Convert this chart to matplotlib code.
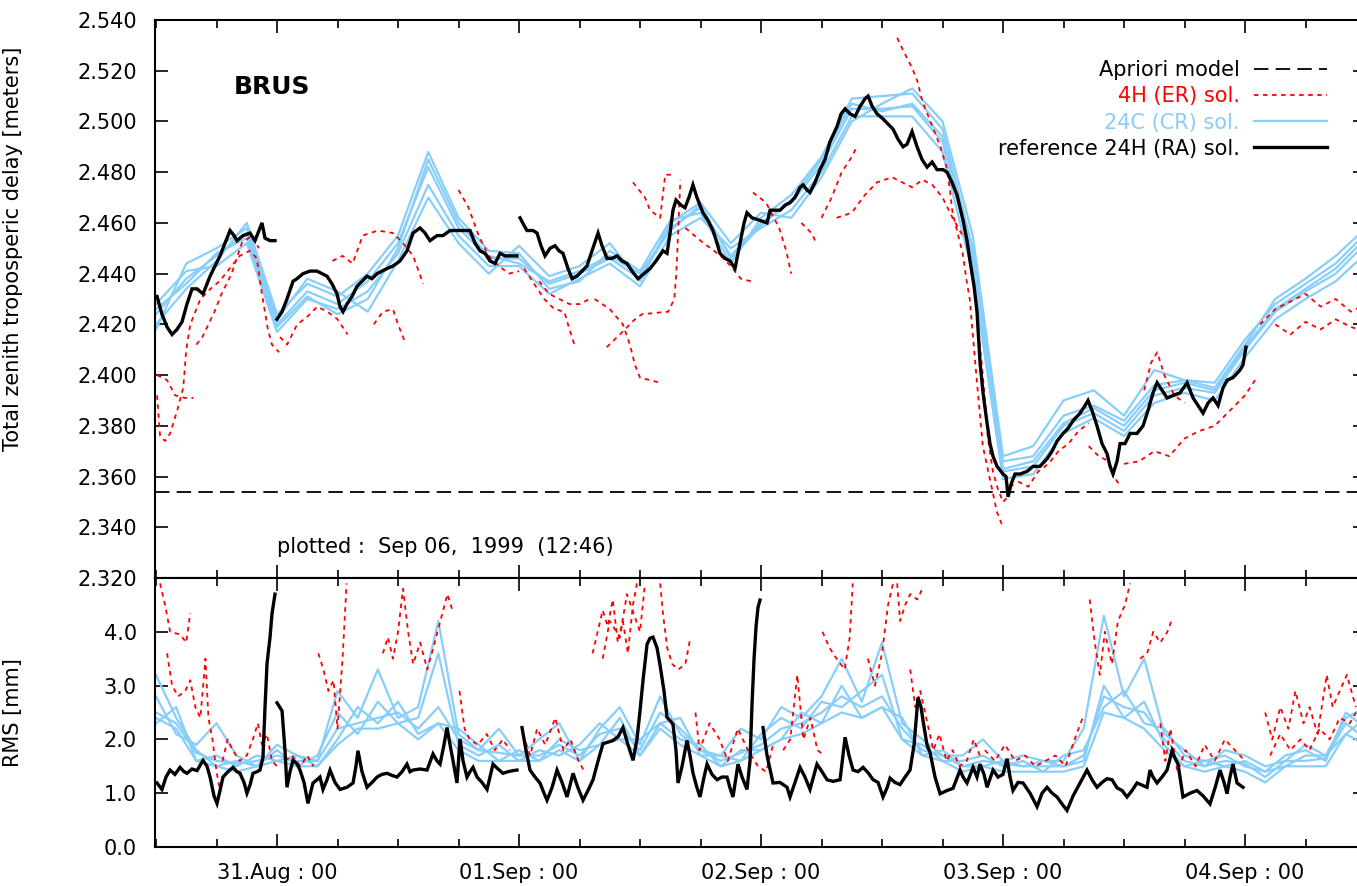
import numpy as np
import matplotlib
matplotlib.use("Agg")
from matplotlib import pyplot as plt
from matplotlib.ticker import FixedLocator, MultipleLocator

# time axis: hours relative to 31.Aug 00:00
day_ticks = [0, 24, 48, 72, 96]
day_labels = ["31.Aug : 00", "01.Sep : 00", "02.Sep : 00", "03.Sep : 00", "04.Sep : 00"]

station = "BRUS"
plotted_note = "plotted :  Sep 06,  1999  (12:46)"
apriori_ztd = 2.3538  # meters

# ---- 24C (CR) solutions, total zenith delay [m], 3 h sampling
hours_top = [-12, -9, -6, -3, 0, 3, 6, 9, 12, 15, 18, 21, 24, 27, 30, 33, 36, 39, 42, 45,
             48, 51, 54, 57, 60, 63, 66, 69, 72, 75, 78, 81, 84, 87, 90, 93, 96, 99, 102, 105, 108]
blue_top_1 = [2.424, 2.438, 2.447, 2.456, 2.420, 2.433, 2.428, 2.437, 2.452, 2.482,
              2.458, 2.446, 2.446, 2.436, 2.440, 2.446, 2.438, 2.458, 2.466, 2.447,
              2.460, 2.468, 2.483, 2.505, 2.505, 2.506, 2.492, 2.445, 2.362, 2.364,
              2.380, 2.385, 2.378, 2.392, 2.395, 2.393, 2.410, 2.425, 2.433, 2.440, 2.452]
blue_top_2 = [2.420, 2.434, 2.445, 2.460, 2.424, 2.436, 2.431, 2.440, 2.455, 2.488,
              2.462, 2.449, 2.448, 2.434, 2.437, 2.449, 2.441, 2.461, 2.464, 2.444,
              2.462, 2.471, 2.486, 2.509, 2.510, 2.511, 2.497, 2.450, 2.366, 2.368,
              2.384, 2.388, 2.382, 2.396, 2.398, 2.397, 2.414, 2.428, 2.436, 2.444, 2.456]
blue_top_3 = [2.428, 2.441, 2.443, 2.452, 2.417, 2.430, 2.426, 2.433, 2.448, 2.475,
              2.455, 2.443, 2.443, 2.432, 2.438, 2.444, 2.435, 2.455, 2.462, 2.450,
              2.458, 2.465, 2.480, 2.502, 2.502, 2.502, 2.488, 2.440, 2.359, 2.361,
              2.377, 2.383, 2.376, 2.389, 2.393, 2.390, 2.407, 2.422, 2.430, 2.437, 2.448]
blue_top_4 = [2.418, 2.444, 2.450, 2.458, 2.422, 2.438, 2.433, 2.425, 2.445, 2.470,
              2.452, 2.440, 2.451, 2.439, 2.443, 2.452, 2.437, 2.460, 2.468, 2.452,
              2.464, 2.462, 2.478, 2.500, 2.507, 2.513, 2.500, 2.455, 2.368, 2.372,
              2.390, 2.394, 2.384, 2.402, 2.398, 2.395, 2.412, 2.430, 2.438, 2.447, 2.458]
blue_top_5 = [2.426, 2.436, 2.448, 2.454, 2.419, 2.431, 2.424, 2.430, 2.450, 2.485,
              2.460, 2.447, 2.444, 2.437, 2.441, 2.447, 2.440, 2.457, 2.467, 2.446,
              2.459, 2.469, 2.485, 2.507, 2.504, 2.507, 2.494, 2.447, 2.363, 2.366,
              2.381, 2.387, 2.380, 2.394, 2.397, 2.394, 2.411, 2.426, 2.434, 2.442, 2.454]

# ---- 24C (CR) solutions, RMS [mm], 2 h sampling
hours_rms = [-12, -10, -8, -6, -4, -2, 0, 2, 4, 6, 8, 10, 12, 14, 16, 18, 20, 22, 24, 26,
             28, 30, 32, 34, 36, 38, 40, 42, 44, 46, 48, 50, 52, 54, 56, 58, 60, 62, 64, 66,
             68, 70, 72, 74, 76, 78, 80, 82, 84, 86, 88, 90, 92, 94, 96, 98, 100, 102, 104, 106, 108]
blue_rms_1 = [2.5, 2.3, 1.75, 1.6, 1.55, 1.6, 1.7, 1.6, 1.6, 2.2,
              2.3, 2.4, 2.5, 2.2, 2.6, 2.0, 1.8, 1.75, 1.7, 1.7,
              1.9, 1.7, 2.1, 2.2, 1.8, 2.5, 2.2, 1.8, 1.6, 1.75,
              1.9, 2.2, 2.3, 2.5, 2.8, 2.6, 2.8, 2.2, 1.8, 1.7,
              1.5, 1.6, 1.55, 1.5, 1.5, 1.5, 1.7, 2.8, 2.6, 2.5,
              2.0, 1.6, 1.5, 1.6, 1.55, 1.3, 1.6, 1.6, 1.65, 2.3, 2.0]
blue_rms_2 = [2.8, 2.1, 1.9, 2.3, 1.7, 1.5, 1.8, 1.5, 1.7, 2.5,
              2.1, 2.7, 2.3, 2.4, 3.6, 1.9, 1.7, 1.9, 1.6, 1.8,
              1.7, 1.9, 2.3, 2.0, 2.0, 2.3, 2.4, 1.7, 1.7, 1.6,
              2.1, 2.4, 2.2, 2.7, 2.6, 2.9, 3.2, 2.0, 1.9, 1.6,
              1.6, 1.7, 1.5, 1.6, 1.4, 1.7, 1.8, 2.6, 2.9, 2.3,
              2.2, 1.7, 1.6, 1.5, 1.6, 1.4, 1.7, 1.8, 1.6, 2.5, 2.2]
blue_rms_3 = [2.3, 2.6, 1.6, 1.7, 1.5, 1.7, 1.6, 1.7, 1.5, 2.0,
              2.6, 2.3, 2.7, 2.1, 2.3, 2.2, 1.9, 1.6, 1.8, 1.6,
              2.0, 1.8, 1.9, 2.4, 1.7, 2.3, 2.0, 1.9, 1.5, 1.8,
              1.8, 2.0, 2.5, 2.3, 3.0, 2.4, 2.6, 2.4, 1.7, 1.8,
              1.5, 1.5, 1.6, 1.5, 1.6, 1.5, 1.6, 3.0, 2.4, 2.7,
              1.9, 1.5, 1.6, 1.7, 1.5, 1.4, 1.5, 1.7, 1.7, 2.1, 2.4]
blue_rms_4 = [3.2, 2.4, 1.8, 1.5, 1.6, 1.5, 1.9, 1.7, 1.6, 2.9,
              2.4, 3.3, 2.4, 2.6, 4.2, 2.1, 1.8, 2.2, 1.7, 2.0,
              2.3, 1.6, 2.2, 2.6, 1.9, 2.8, 2.1, 1.8, 1.7, 2.2,
              2.0, 2.6, 2.4, 2.8, 3.5, 2.7, 3.8, 2.3, 2.0, 1.7,
              1.7, 2.0, 1.6, 1.7, 1.6, 1.6, 2.2, 4.3, 2.8, 3.5,
              2.1, 1.8, 1.5, 1.8, 1.7, 1.5, 1.6, 1.9, 1.7, 2.4, 2.6]
blue_rms_5 = [2.4, 2.2, 1.6, 1.5, 1.4, 1.5, 1.6, 1.5, 1.5, 1.9,
              2.2, 2.2, 2.3, 2.0, 2.3, 1.8, 1.6, 1.6, 1.6, 1.6,
              1.8, 1.6, 1.9, 2.0, 1.7, 2.2, 1.9, 1.7, 1.5, 1.6,
              1.8, 2.0, 2.1, 2.3, 2.5, 2.4, 2.6, 2.0, 1.7, 1.6,
              1.4, 1.5, 1.4, 1.4, 1.4, 1.4, 1.5, 2.5, 2.4, 2.2,
              1.8, 1.5, 1.4, 1.5, 1.4, 1.2, 1.5, 1.5, 1.5, 2.1, 1.9]

# ---- 4H (ER) solutions, delay [m]: (hour, value) pieces
red_top_segs = [
    [(-11.9, 2.392), (-11.6, 2.376), (-11.1, 2.374), (-10.6, 2.377), (-9.9, 2.386), (-9.3, 2.395),
     (-9.0, 2.410), (-8.6, 2.420), (-8.1, 2.425), (-7.6, 2.430), (-6.6, 2.434), (-5.7, 2.437),
     (-4.7, 2.442), (-3.7, 2.447), (-2.7, 2.449), (-2.0, 2.446), (-1.5, 2.432), (-0.9, 2.418),
     (-0.5, 2.412), (0.2, 2.409)],
    [(-11.9, 2.400), (-10.9, 2.398), (-10.1, 2.392), (-9.1, 2.391), (-8.3, 2.391)],
    [(-8.0, 2.412), (-7.4, 2.415), (-6.8, 2.420), (-6.2, 2.425), (-5.5, 2.432), (-4.5, 2.440),
     (-3.5, 2.452), (-2.5, 2.455), (-1.8, 2.450)],
    [(0.3, 2.415), (1.0, 2.412), (2.0, 2.420), (3.0, 2.423), (4.0, 2.427), (5.0, 2.425),
     (6.0, 2.422), (7.0, 2.416)],
    [(5.5, 2.445), (6.5, 2.447), (7.5, 2.444), (8.5, 2.455), (10.0, 2.457), (11.5, 2.456),
     (12.5, 2.452), (13.5, 2.447), (14.5, 2.436)],
    [(9.6, 2.420), (10.5, 2.425), (11.5, 2.426), (12.0, 2.420), (12.7, 2.413)],
    [(18.0, 2.473), (19.0, 2.466), (20.0, 2.455), (21.0, 2.447), (22.0, 2.443), (23.0, 2.440),
     (24.0, 2.441)],
    [(24.5, 2.442), (25.5, 2.436), (26.5, 2.430), (27.5, 2.426), (28.5, 2.425), (29.0, 2.418),
     (29.5, 2.412)],
    [(26.0, 2.437), (27.0, 2.432), (28.0, 2.430), (29.0, 2.428), (30.0, 2.428), (31.0, 2.430)],
    [(31.5, 2.430), (33.0, 2.426), (34.3, 2.420), (35.0, 2.412), (35.5, 2.404), (36.0, 2.399),
     (37.0, 2.398), (38.0, 2.397)],
    [(32.7, 2.411), (34.0, 2.416), (35.5, 2.422), (36.2, 2.424), (38.8, 2.425), (39.4, 2.430),
     (39.6, 2.440), (39.8, 2.458), (40.0, 2.477)],
    [(35.3, 2.476), (36.5, 2.470), (37.0, 2.465), (38.0, 2.462), (38.5, 2.479), (39.5, 2.479)],
    [(40.5, 2.458), (42.0, 2.453), (43.0, 2.450), (44.0, 2.447), (45.0, 2.443), (46.0, 2.438),
     (47.0, 2.437)],
    [(47.2, 2.472), (48.5, 2.468), (49.8, 2.458), (50.5, 2.449), (51.0, 2.440)],
    [(52.0, 2.460), (53.0, 2.456), (53.5, 2.452)],
    [(54.0, 2.462), (55.0, 2.470), (56.0, 2.480), (57.0, 2.486), (57.5, 2.490)],
    [(55.5, 2.462), (57.0, 2.464), (58.3, 2.471), (59.5, 2.476), (61.0, 2.478), (62.0, 2.476),
     (63.0, 2.474), (64.0, 2.477), (65.0, 2.475), (66.0, 2.470), (67.0, 2.462), (68.0, 2.455)],
    [(61.5, 2.533), (62.1, 2.528), (63.0, 2.521), (63.5, 2.516), (64.0, 2.508), (64.8, 2.500),
     (65.8, 2.490), (66.4, 2.482), (66.7, 2.474), (67.0, 2.464), (67.5, 2.456), (68.0, 2.448),
     (68.4, 2.437), (68.7, 2.430), (69.4, 2.398), (69.7, 2.385), (70.0, 2.372), (70.7, 2.359),
     (71.4, 2.346), (72.0, 2.340)],
    [(69.5, 2.420), (70.0, 2.400), (70.5, 2.375), (71.0, 2.362), (71.5, 2.355), (72.0, 2.350),
     (72.5, 2.352), (73.0, 2.357)],
    [(73.5, 2.358), (74.5, 2.356), (75.5, 2.362), (76.5, 2.365), (77.5, 2.370), (78.5, 2.373),
     (79.5, 2.378), (80.5, 2.381)],
    [(80.5, 2.372), (81.5, 2.368), (82.5, 2.366), (83.0, 2.360), (83.5, 2.357)],
    [(84.0, 2.365), (85.5, 2.366), (87.0, 2.370), (88.5, 2.368), (90.0, 2.375), (91.5, 2.378),
     (93.0, 2.380), (94.5, 2.386), (96.0, 2.392), (97.0, 2.398)],
    [(86.0, 2.394), (86.7, 2.405), (87.3, 2.409), (88.0, 2.400), (89.0, 2.392), (90.0, 2.389)],
    [(97.5, 2.420), (99.0, 2.426), (100.5, 2.429), (102.0, 2.432), (103.5, 2.427), (105.0, 2.430),
     (106.5, 2.425), (108.0, 2.428)],
    [(99.0, 2.420), (100.5, 2.416), (102.0, 2.421), (103.5, 2.418), (105.0, 2.422), (106.5, 2.419),
     (108.0, 2.417)],
]

# ---- 4H (ER) solutions, RMS [mm]
red_rms_segs = [
    [(-11.6, 4.9), (-11.1, 4.5), (-10.6, 4.0), (-9.6, 3.95), (-9.0, 3.8), (-8.6, 4.35)],
    [(-10.9, 3.6), (-10.4, 3.0), (-9.8, 2.8), (-9.1, 2.9), (-8.6, 3.1), (-8.1, 2.6), (-7.6, 2.4),
     (-7.1, 3.5), (-6.8, 2.4), (-6.4, 2.0), (-6.0, 1.4), (-5.7, 1.1)],
    [(-5.4, 1.6), (-4.9, 2.0), (-4.4, 1.8), (-3.7, 1.6), (-3.0, 1.7), (-2.4, 2.0), (-1.9, 2.3),
     (-1.5, 1.9), (-1.0, 2.1), (-0.5, 1.6), (0.0, 1.5)],
    [(0.8, 1.6), (1.5, 1.7), (2.3, 1.5), (3.0, 1.7), (3.6, 1.5)],
    [(4.1, 3.6), (4.6, 3.3), (5.1, 2.9), (5.6, 3.1), (6.0, 2.2), (6.5, 3.5), (6.9, 4.9)],
    [(10.5, 3.6), (11.0, 3.9), (11.5, 3.5), (12.0, 4.0), (12.5, 4.8), (13.0, 4.0), (13.5, 3.4),
     (14.2, 3.8), (14.9, 3.3), (15.5, 3.7), (16.2, 4.2), (16.9, 4.7), (17.4, 4.4)],
    [(18.1, 2.9), (18.6, 2.2), (19.1, 2.0), (19.9, 1.9), (20.8, 2.1), (21.6, 1.8), (22.4, 2.0),
     (23.1, 1.8)],
    [(24.4, 2.1), (25.1, 1.7), (25.8, 2.2), (26.6, 1.9), (27.6, 2.4), (28.4, 1.8), (29.1, 2.0),
     (29.9, 1.6), (30.5, 1.4)],
    [(31.3, 3.6), (31.8, 4.0), (32.3, 4.4), (32.8, 4.1), (33.3, 4.6), (33.8, 3.8), (34.3, 4.2),
     (34.8, 3.6), (35.3, 4.5), (35.7, 4.9)],
    [(32.3, 3.5), (33.0, 4.2), (34.0, 3.9), (34.7, 4.7), (36.0, 4.0), (36.5, 4.9)],
    [(38.0, 4.9), (38.3, 4.3), (38.7, 3.7), (39.2, 3.4), (39.8, 3.3), (40.5, 3.4), (41.0, 3.9)],
    [(41.5, 2.5), (41.9, 1.8), (42.9, 2.3), (43.9, 2.0), (44.7, 1.6), (45.7, 2.2), (46.7, 1.8),
     (47.7, 1.5), (48.5, 1.4), (49.2, 1.9)],
    [(50.2, 1.8), (50.9, 2.0), (51.6, 3.2), (52.2, 2.0), (52.9, 2.4), (53.6, 1.8), (54.3, 1.7)],
    [(54.1, 4.0), (54.8, 3.7), (55.5, 3.5), (56.3, 3.3), (56.8, 3.9), (57.1, 4.9)],
    [(58.6, 3.5), (59.3, 3.0), (60.0, 3.6), (60.6, 4.5), (61.1, 4.9)],
    [(61.5, 4.9), (61.8, 4.2), (62.3, 4.5), (62.8, 4.7), (63.5, 4.6), (64.0, 4.8)],
    [(62.8, 3.3), (63.3, 2.6), (63.8, 2.9), (64.5, 2.3), (65.1, 1.8), (65.7, 2.1), (66.4, 1.6),
     (67.0, 1.8), (67.7, 1.5), (68.4, 1.6), (69.1, 2.0), (69.7, 1.7)],
    [(70.2, 1.8), (71.2, 1.6), (72.2, 1.9), (73.2, 1.6), (74.2, 1.7), (75.2, 1.5), (76.2, 1.6),
     (77.2, 1.7), (78.2, 1.5), (79.1, 2.0), (79.9, 2.4)],
    [(80.6, 4.6), (81.1, 3.8), (81.6, 3.2), (82.1, 4.0), (82.8, 3.4), (83.4, 4.2), (84.1, 4.5),
     (84.6, 4.9)],
    [(85.6, 3.5), (86.3, 3.6), (86.9, 4.0), (87.6, 3.8), (88.3, 4.0), (88.8, 4.25)],
    [(87.6, 2.3), (88.1, 1.6), (88.6, 2.2), (89.3, 1.4), (90.1, 1.8), (91.1, 1.5), (92.0, 1.9),
     (93.0, 1.6), (94.0, 2.0), (95.0, 1.8), (96.0, 1.6)],
    [(98.0, 2.5), (98.7, 2.0), (99.5, 2.6), (100.3, 2.2), (101.0, 2.9), (101.8, 2.3), (102.4, 2.6),
     (103.2, 2.1), (104.1, 3.2), (104.7, 2.6), (105.4, 2.9), (106.1, 3.2), (107.0, 2.6)],
    [(98.5, 1.7), (99.5, 2.1), (100.5, 1.8), (101.5, 2.0), (102.4, 1.8), (103.4, 2.2), (104.4, 2.0),
     (105.4, 2.4), (106.4, 2.3), (107.0, 2.5)],
]

# ---- reference 24H (RA) solution, delay [m]
ref_top_segs = [
    [(-11.90, 2.431), (-11.41, 2.424), (-10.91, 2.419), (-10.41, 2.416), (-9.92, 2.418),
     (-9.42, 2.421), (-8.93, 2.428), (-8.43, 2.434), (-7.93, 2.434), (-7.34, 2.432),
     (-6.64, 2.439), (-6.15, 2.443), (-5.65, 2.447), (-5.16, 2.452), (-4.66, 2.457),
     (-4.26, 2.455), (-3.97, 2.453), (-3.37, 2.455), (-2.68, 2.456), (-2.18, 2.453),
     (-1.79, 2.457), (-1.49, 2.460), (-1.19, 2.454), (-0.69, 2.453), (-0.20, 2.453)],
    [(0.00, 2.422), (0.50, 2.425), (0.99, 2.430), (1.59, 2.437), (1.98, 2.438), (2.58, 2.440),
     (3.27, 2.441), (3.97, 2.441), (4.46, 2.440), (4.96, 2.439), (5.45, 2.436), (5.95, 2.432),
     (6.25, 2.427), (6.55, 2.425), (6.94, 2.428), (7.44, 2.431), (7.93, 2.435), (8.43, 2.437),
     (8.93, 2.439), (9.42, 2.438), (9.92, 2.440), (10.41, 2.441), (10.91, 2.442), (11.50, 2.443),
     (12.20, 2.445), (12.89, 2.449), (13.49, 2.456), (14.18, 2.458), (14.68, 2.456),
     (15.17, 2.453), (15.87, 2.455), (16.46, 2.455), (17.16, 2.457), (17.85, 2.457),
     (18.65, 2.457), (19.14, 2.457), (19.64, 2.452), (20.13, 2.449), (20.63, 2.448),
     (21.12, 2.445), (21.62, 2.444), (22.12, 2.448), (22.61, 2.447), (23.11, 2.447),
     (23.80, 2.447)],
    [(24.10, 2.462), (24.50, 2.459), (24.79, 2.457), (25.39, 2.457), (25.79, 2.456),
     (26.18, 2.451), (26.58, 2.447), (27.08, 2.450), (27.57, 2.451), (27.97, 2.449),
     (28.36, 2.448), (28.86, 2.442), (29.26, 2.438), (29.75, 2.439), (30.25, 2.441),
     (30.74, 2.443), (31.24, 2.449), (31.84, 2.456), (32.23, 2.451), (32.73, 2.446),
     (33.22, 2.446), (33.72, 2.447), (34.22, 2.445), (34.71, 2.444), (35.21, 2.441),
     (35.80, 2.438), (36.40, 2.440), (36.99, 2.442), (37.59, 2.445), (38.28, 2.449),
     (38.68, 2.448), (38.98, 2.456), (39.27, 2.465), (39.57, 2.469), (40.06, 2.467),
     (40.46, 2.466), (40.85, 2.470), (41.25, 2.475), (41.65, 2.470), (42.24, 2.464),
     (42.74, 2.461), (43.24, 2.457), (43.64, 2.452), (43.93, 2.448), (44.43, 2.446),
     (44.93, 2.445), (45.42, 2.442), (45.92, 2.452), (46.32, 2.460), (46.61, 2.464),
     (47.11, 2.462), (47.90, 2.461), (48.60, 2.460), (48.90, 2.465), (49.39, 2.465),
     (49.89, 2.465), (50.38, 2.467), (50.88, 2.468), (51.37, 2.470), (51.87, 2.474),
     (52.17, 2.475), (52.56, 2.473), (52.86, 2.472), (53.36, 2.476), (53.85, 2.481),
     (54.35, 2.485), (54.84, 2.492), (55.54, 2.498), (55.94, 2.503), (56.34, 2.505),
     (56.83, 2.503), (57.33, 2.502), (57.83, 2.506), (58.32, 2.509), (58.62, 2.510),
     (59.02, 2.506), (59.51, 2.503), (60.10, 2.501), (60.60, 2.499), (61.09, 2.497),
     (61.59, 2.493), (62.09, 2.490), (62.48, 2.491), (62.98, 2.496), (63.48, 2.490),
     (63.97, 2.485), (64.47, 2.482), (64.97, 2.484), (65.46, 2.481), (66.05, 2.481),
     (66.45, 2.480), (66.94, 2.476), (67.44, 2.471), (67.74, 2.466), (68.04, 2.461),
     (68.43, 2.453), (68.73, 2.445), (69.13, 2.435), (69.42, 2.425), (69.72, 2.405),
     (70.02, 2.393), (70.42, 2.381), (70.71, 2.373), (71.01, 2.368), (71.41, 2.364),
     (72.00, 2.361), (72.30, 2.360), (72.50, 2.352), (72.80, 2.357), (73.19, 2.361),
     (73.69, 2.361), (74.38, 2.362), (74.98, 2.364), (75.67, 2.364), (76.37, 2.367),
     (76.87, 2.370), (77.36, 2.374), (77.95, 2.377), (78.45, 2.379), (78.95, 2.382),
     (79.64, 2.385), (80.14, 2.388), (80.43, 2.390), (80.83, 2.386), (81.32, 2.380),
     (81.82, 2.373), (82.32, 2.369), (82.62, 2.364), (82.91, 2.361), (83.31, 2.366),
     (83.61, 2.373), (84.10, 2.373), (84.60, 2.377), (85.29, 2.377), (85.89, 2.380),
     (86.38, 2.386), (86.88, 2.393), (87.28, 2.397), (87.77, 2.394), (88.27, 2.391),
     (88.87, 2.392), (89.56, 2.393), (90.26, 2.397), (90.85, 2.391), (91.35, 2.388),
     (91.84, 2.385), (92.34, 2.389), (92.83, 2.391), (93.33, 2.388), (93.82, 2.395),
     (94.22, 2.398), (94.81, 2.399), (95.51, 2.402), (95.80, 2.404), (96.10, 2.411)],
]

# ---- reference 24H (RA) solution, RMS [mm]
ref_rms_segs = [
    [(-11.90, 1.19), (-11.41, 1.07), (-11.01, 1.30), (-10.61, 1.43), (-10.12, 1.35), (-9.62, 1.48),
     (-9.22, 1.40), (-8.93, 1.37), (-8.43, 1.45), (-7.93, 1.42), (-7.34, 1.61), (-6.94, 1.50),
     (-6.64, 1.30), (-6.25, 0.95), (-5.95, 0.81), (-5.65, 1.05), (-5.36, 1.30), (-4.86, 1.40),
     (-4.36, 1.48), (-3.97, 1.40), (-3.67, 1.37), (-3.27, 1.20), (-2.98, 1.00), (-2.68, 1.15),
     (-2.38, 1.37), (-1.98, 1.40), (-1.69, 1.43), (-1.39, 1.67), (-1.19, 2.60), (-0.99, 3.41),
     (-0.69, 3.90), (-0.50, 4.33), (-0.20, 4.70)],
    [(0.00, 2.68), (0.50, 2.53), (0.79, 1.80), (0.99, 1.11), (1.29, 1.40), (1.59, 1.61),
     (1.98, 1.55), (2.28, 1.43), (2.68, 1.20), (3.07, 0.81), (3.57, 1.19), (3.97, 1.25),
     (4.26, 1.30), (4.56, 1.07), (4.96, 1.25), (5.26, 1.43), (5.75, 1.20), (6.25, 1.07),
     (6.94, 1.11), (7.54, 1.19), (7.83, 1.50), (8.03, 1.79), (8.43, 1.40), (8.93, 1.11),
     (9.42, 1.20), (9.92, 1.30), (10.41, 1.35), (10.91, 1.37), (11.41, 1.33), (11.90, 1.30),
     (12.40, 1.40), (12.89, 1.54), (13.19, 1.40), (13.49, 1.43), (14.18, 1.45), (14.88, 1.43),
     (15.47, 1.73), (15.87, 1.60), (16.17, 1.54), (16.56, 1.90), (16.86, 2.22), (17.16, 1.90),
     (17.45, 1.61), (17.85, 1.19), (18.15, 2.01), (18.45, 1.60), (18.84, 1.30), (19.14, 1.40),
     (19.44, 1.48), (19.84, 1.30), (20.33, 1.20), (20.83, 1.07), (21.12, 1.30), (21.42, 1.54),
     (21.92, 1.45), (22.41, 1.37), (22.91, 1.40), (23.41, 1.42), (23.80, 1.43)],
    [(24.30, 2.22), (24.69, 1.80), (25.09, 1.43), (25.59, 1.30), (26.08, 1.19), (26.48, 1.00),
     (26.78, 0.87), (27.27, 1.10), (27.77, 1.43), (28.27, 1.20), (28.76, 0.93), (29.36, 1.37),
     (29.85, 1.10), (30.35, 0.87), (30.84, 1.05), (31.34, 1.25), (31.84, 1.60), (32.33, 1.92),
     (32.83, 1.95), (33.32, 1.98), (33.82, 2.05), (34.31, 2.22), (34.81, 1.90), (35.31, 1.61),
     (35.70, 2.00), (36.00, 2.53), (36.30, 3.10), (36.70, 3.77), (36.99, 3.88), (37.29, 3.90),
     (37.69, 3.70), (37.98, 3.39), (38.38, 2.90), (38.68, 2.41), (38.98, 2.35), (39.27, 2.28),
     (39.57, 1.80), (39.77, 1.19), (40.17, 1.50), (40.66, 1.98), (40.96, 1.70), (41.26, 1.37),
     (41.65, 1.10), (41.95, 0.93), (42.35, 1.30), (42.65, 1.54), (43.14, 1.35), (43.64, 1.25),
     (44.13, 1.30), (44.63, 1.30), (44.92, 1.10), (45.22, 0.93), (45.72, 1.54), (46.12, 1.30),
     (46.61, 1.07), (46.91, 1.60), (47.11, 2.66), (47.31, 3.50), (47.51, 4.10), (47.70, 4.45),
     (47.90, 4.59)],
    [(48.20, 2.22), (48.60, 1.70), (49.19, 1.19), (49.89, 1.20), (50.58, 1.11), (50.88, 0.93),
     (51.37, 1.20), (51.87, 1.48), (52.36, 1.30), (52.86, 1.07), (53.55, 1.54), (54.05, 1.40),
     (54.55, 1.25), (55.14, 1.22), (55.84, 1.25), (56.34, 2.04), (56.73, 1.70), (57.13, 1.43),
     (57.62, 1.40), (58.12, 1.48), (58.62, 1.38), (59.12, 1.25), (59.61, 1.20), (60.10, 0.93),
     (60.50, 1.10), (60.80, 1.28), (61.29, 1.20), (61.79, 1.16), (62.29, 1.30), (62.78, 1.43),
     (63.18, 1.90), (63.57, 2.78), (63.87, 2.60), (64.07, 2.35), (64.46, 1.90), (64.76, 1.76),
     (65.26, 1.30), (65.76, 0.99), (66.45, 1.05), (67.04, 1.09), (67.74, 1.43), (68.04, 1.30),
     (68.43, 1.19), (69.03, 1.48), (69.42, 1.30), (69.72, 1.54), (70.12, 1.35), (70.42, 1.11),
     (71.01, 1.43), (71.51, 1.30), (72.00, 1.35), (72.40, 1.64), (72.70, 1.30), (72.99, 1.05),
     (73.49, 1.20), (73.99, 1.19), (74.68, 1.00), (75.38, 0.75), (75.87, 1.00), (76.37, 1.11),
     (76.87, 1.00), (77.36, 0.93), (77.85, 0.80), (78.35, 0.68), (78.95, 0.95), (79.64, 1.19),
     (80.33, 1.43), (80.83, 1.25), (81.32, 1.11), (81.82, 1.20), (82.32, 1.27), (82.81, 1.25),
     (83.31, 1.10), (83.81, 1.05), (84.30, 0.93), (84.80, 1.05), (85.29, 1.19), (85.79, 1.15),
     (86.28, 1.11), (86.58, 1.43), (86.88, 1.30), (87.28, 1.19), (87.77, 1.30), (88.27, 1.43),
     (88.77, 1.79), (89.06, 1.65), (89.36, 1.54), (89.85, 0.93), (90.55, 1.00), (91.24, 1.05),
     (91.84, 0.95), (92.53, 0.80), (93.03, 1.10), (93.52, 1.43), (93.92, 1.20), (94.22, 0.99),
     (94.51, 1.30), (94.81, 1.54), (95.21, 1.19), (95.80, 1.11)],
]

RED = "#ff0000"
BLUE = "#87cefa"
FS = 15

W, H = 1357, 886
fig = plt.figure(figsize=(W / 100, H / 100), dpi=100)
# pixel layout of the two panels (left, right, top, middle, bottom)
x0, x1 = 155, 1366
y_top, y_mid, y_bot = 20, 578, 847
ax = fig.add_axes([x0 / W, 1 - y_mid / H, (x1 - x0) / W, (y_mid - y_top) / H])
ax2 = fig.add_axes([x0 / W, 1 - y_bot / H, (x1 - x0) / W, (y_bot - y_mid) / H], sharex=ax)


def plot_segments(a, segs, **kw):
    lines = []
    for seg in segs:
        h, v = zip(*seg)
        lines += a.plot(h, v, **kw)
    return lines


red_style = dict(color=RED, lw=1.3, ls=(0, (2.5, 2.5)), zorder=3)
blue_style = dict(color=BLUE, lw=1.6, zorder=2)
ref_style = dict(color="black", lw=2.4, zorder=4, solid_joinstyle="miter")

# top panel
apri = ax.axhline(apriori_ztd, color="black", lw=1.3, ls=(0, (8, 4)), zorder=1)
blue_lines = []
for series in (blue_top_1, blue_top_2, blue_top_3, blue_top_4, blue_top_5):
    blue_lines += ax.plot(hours_top, series, **blue_style)
red_lines = plot_segments(ax, red_top_segs, **red_style)
ref_lines = plot_segments(ax, ref_top_segs, **ref_style)

# RMS panel
for series in (blue_rms_1, blue_rms_2, blue_rms_3, blue_rms_4, blue_rms_5):
    ax2.plot(hours_rms, series, **blue_style)
plot_segments(ax2, red_rms_segs, **red_style)
plot_segments(ax2, ref_rms_segs, **ref_style)

ax.set_xlim(-12.1, 108.0)
ax.set_ylim(2.320, 2.540)
ax2.set_ylim(0.0, 5.0)

ax.yaxis.set_major_locator(MultipleLocator(0.02))
ax.yaxis.set_major_formatter(lambda v, p: f"{v:.3f}")
ax2.yaxis.set_major_locator(FixedLocator([0, 1, 2, 3, 4]))
ax2.yaxis.set_major_formatter(lambda v, p: f"{v:.1f}")
ax2.xaxis.set_major_locator(FixedLocator(day_ticks))
ax2.xaxis.set_minor_locator(MultipleLocator(6))
ax2.set_xticklabels(day_labels)

for a in (ax, ax2):
    a.tick_params(which="both", direction="in", top=True, right=True,
                  labelsize=FS, width=1.2)
    a.tick_params(which="major", length=9.5)
    a.tick_params(which="minor", length=6)
    a.tick_params(axis="x", pad=11.5)
    a.tick_params(axis="y", pad=13)
    for s in a.spines.values():
        s.set_linewidth(1.5)
ax.tick_params(labelbottom=False)

ax.set_ylabel("Total zenith troposperic delay [meters]", fontsize=FS)
ax.yaxis.set_label_coords(-0.109, 0.59)
ax2.set_ylabel("RMS [mm]", fontsize=FS)
ax2.yaxis.set_label_coords(-0.109, 0.5)

ax.text(0.065, 0.88, station, transform=ax.transAxes, fontsize=18,
        fontweight="bold", va="center")
ax.text(0.101, 0.056, plotted_note, transform=ax.transAxes, fontsize=FS, va="center")

leg = ax.legend([apri, red_lines[0], blue_lines[0], ref_lines[0]],
                ["Apriori model", "4H (ER) sol.", "24C (CR) sol.", "reference 24H (RA) sol."],
                loc="upper right", bbox_to_anchor=(1327 / W, 1 - 60 / H),
                bbox_transform=fig.transFigure, frameon=False, markerfirst=False,
                fontsize=FS, labelcolor="linecolor", handlelength=3.5,
                handletextpad=0.7, labelspacing=0.3, borderpad=0, borderaxespad=0)

fig.savefig("out.png", dpi=100)
